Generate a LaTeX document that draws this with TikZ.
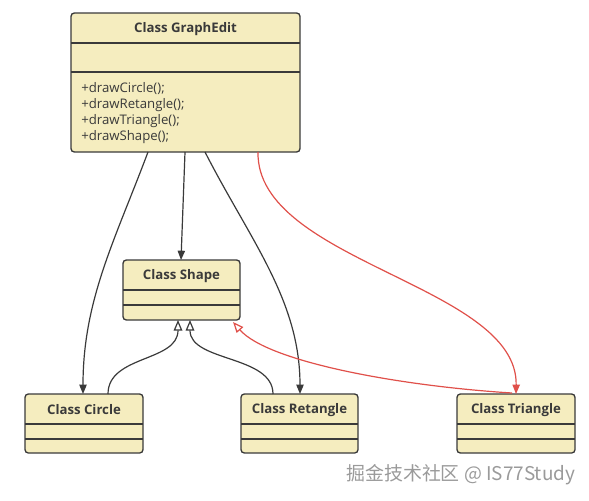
\documentclass[tikz,border=0pt]{standalone}
\usepackage{fontspec}
\setmainfont{Open Sans}
\newfontfamily\cjk{Noto Sans CJK SC}
\usetikzlibrary{arrows.meta}
\definecolor{boxfill}{HTML}{F5EDBF}
\definecolor{boxline}{HTML}{3A3A3A}
\definecolor{redline}{HTML}{E0504A}
\definecolor{wmark}{HTML}{9A9A9A}
\begin{document}
\begin{tikzpicture}[x=0.75pt,y=-0.75pt,
  cls/.style={draw=boxline, line width=1pt, fill=boxfill, rounded corners=2.5pt, inner sep=0pt},
  ttl/.style={font=\bfseries\fontsize{9.9}{11}\selectfont, text=boxline, inner sep=0pt},
  meth/.style={font=\fontsize{9.9}{12}\selectfont, text=boxline, inner sep=0pt, align=left, anchor=north west},
  dv/.style={draw=boxline, line width=1pt},
  arr/.style={draw=boxline, line width=0.9pt, -{Triangle[length=7pt,width=5.5pt]}},
  gen/.style={draw=boxline, line width=0.9pt, -{Triangle[open,length=8pt,width=6.5pt,fill=white]}},
  rarr/.style={draw=redline, line width=0.9pt, -{Triangle[length=7pt,width=5.5pt]}},
  rgen/.style={draw=redline, line width=0.9pt, -{Triangle[open,length=8pt,width=6.5pt,fill=white]}}]
\useasboundingbox (0,0) rectangle (589,500);

% GraphEdit
\node[cls, minimum width=229*0.75pt, minimum height=139*0.75pt] (g) at (185.5,82.5) {};
\draw[dv] (71,43) -- (300,43);
\draw[dv] (71,72) -- (300,72);
\node[ttl] (gt) at (185.5,29) {Class GraphEdit};
\node[meth] (gm) at (81,82.5) {+drawCircle();\\+drawRetangle();\\+drawTriangle();\\+drawShape();};

% Shape
\node[cls, minimum width=117*0.75pt, minimum height=60*0.75pt] (s) at (181.5,290) {};
\draw[dv] (123,290) -- (240,290);
\draw[dv] (123,305) -- (240,305);
\node[ttl] (st) at (181.5,276) {Class Shape};

% Circle
\node[cls, minimum width=118*0.75pt, minimum height=59*0.75pt] (c) at (84,423.5) {};
\draw[dv] (25,424) -- (143,424);
\draw[dv] (25,439) -- (143,439);
\node[ttl] (ct) at (84,410) {Class Circle};

% Retangle
\node[cls, minimum width=117*0.75pt, minimum height=59*0.75pt] (r) at (299.5,423.5) {};
\draw[dv] (241,424) -- (358,424);
\draw[dv] (241,439) -- (358,439);
\node[ttl] (rt) at (299.5,410) {Class Retangle};

% Triangle
\node[cls, minimum width=118*0.75pt, minimum height=59*0.75pt] (t) at (516,423.5) {};
\draw[dv] (457,424) -- (575,424);
\draw[dv] (457,439) -- (575,439);
\node[ttl] (tt) at (516,410) {Class Triangle};

% connector endpoints
\coordinate (g1) at (148,152);
\coordinate (g2) at (185,152);
\coordinate (g3) at (205,152);
\coordinate (g4) at (258,152);
\coordinate (cIn) at (83,394);
\coordinate (sIn) at (181,260);
\coordinate (rIn) at (300,394);
\coordinate (tIn) at (516,394);
\coordinate (cOut) at (108,394);
\coordinate (rOut) at (273,394);
\coordinate (tOut) at (512,393);
\coordinate (sB1) at (178,320);
\coordinate (sB2) at (190,320);
\coordinate (sB3) at (233,322);

\draw[arr] (g1) .. controls (115,240) and (83,300) .. (cIn);
\draw[arr] (g2) -- (sIn);
\draw[arr] (g3) .. controls (250,240) and (300,300) .. (rIn);
\draw[rarr] (g4) .. controls (256,262) and (518,285) .. (tIn);
\draw[gen] (cOut) .. controls (108,355) and (178,362) .. (sB1);
\draw[gen] (rOut) .. controls (273,355) and (190,362) .. (sB2);
\draw[rgen] (tOut) .. controls (400,386) and (268,362) .. (sB3);

% watermark
\node[font=\cjk\fontsize{14.2}{16}\selectfont, text=wmark, anchor=west, inner sep=0pt] (wm) at (346,475) {掘金技术社区 @ IS77Study};
\end{tikzpicture}
\end{document}
